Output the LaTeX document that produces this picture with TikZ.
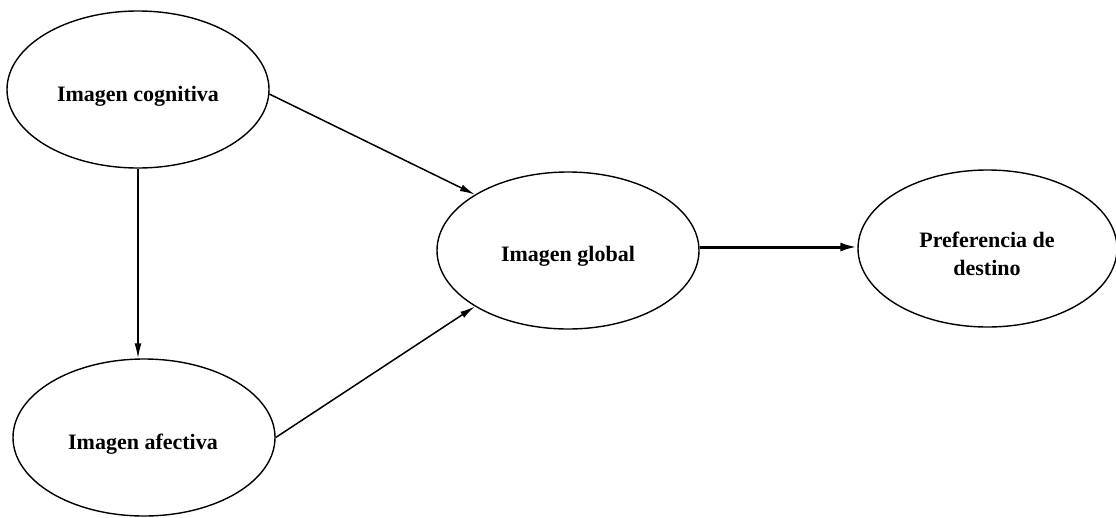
\documentclass[tikz,border=0pt]{standalone}
\usepackage{fontspec}
\setmainfont{Liberation Serif}
\usetikzlibrary{shapes.geometric,arrows.meta}
\begin{document}
\begin{tikzpicture}[x=1pt,y=-1pt,
  oval/.style={draw=black,ellipse,line width=1.4pt,minimum width=262pt,minimum height=157pt,inner sep=0pt},
  lbl/.style={font=\fontsize{22}{28}\selectfont\bfseries,inner sep=0pt,align=center},
  conn/.style={line width=1.5pt,-{Latex[length=15pt,width=7pt]}},
  thick conn/.style={line width=3pt,-{Latex[length=17pt,width=9pt]}}]
\useasboundingbox (0,0) rectangle (1116,517);
\node[oval] (cog) at (138,89.5) {};
\node[oval] (afe) at (144,437.5) {};
\node[oval] (glob) at (568,250.5) {};
\node[oval,minimum width=259pt] (pref) at (987.5,248.5) {};
\node[lbl,anchor=base] (tcog) at (138,101) {Imagen cognitiva};
\node[lbl,anchor=base] (tafe) at (143,449) {Imagen afectiva};
\node[lbl,anchor=base] (tglob) at (568,261) {Imagen global};
\node[lbl] (tpref) at (987,254) {Preferencia de\\destino};
\draw[conn] (cog.-2) -- (glob.149);
\draw[conn] (afe.east) -- (glob.211);
\draw[conn] (cog.south) -- (cog.south |- afe.north);
\draw[thick conn] ([yshift=3.5pt]glob.east) -- ([yshift=3.5pt]glob.east -| pref.west);
\end{tikzpicture}
\end{document}
